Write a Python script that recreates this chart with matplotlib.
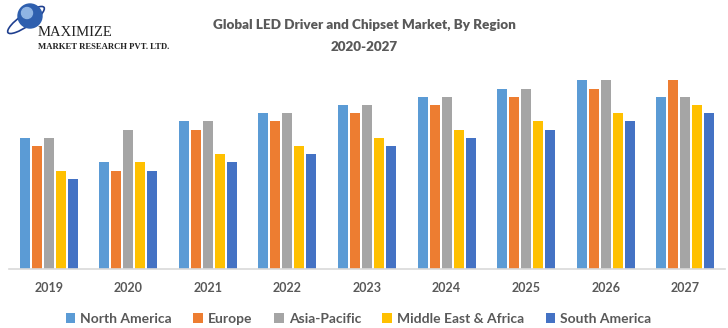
import matplotlib
matplotlib.use("Agg")
import matplotlib.pyplot as plt
import numpy as np
from matplotlib.patches import Circle, Ellipse

years = ["2019", "2020", "2021", "2022", "2023", "2024", "2025", "2026", "2027"]
regions = ["North America", "Europe", "Asia-Pacific", "Middle East & Africa", "South America"]
north_america = [16, 13, 18, 19, 20, 21, 22, 23, 21]
europe = [15, 12, 17, 18, 19, 20, 21, 22, 23]
asia_pacific = [16, 17, 18, 19, 20, 21, 22, 23, 21]
mea = [12, 13, 14, 15, 16, 17, 18, 19, 20]
south_america = [11, 12, 13, 14, 15, 16, 17, 18, 19]
colors = ["#5B9BD5", "#ED7D31", "#A5A5A5", "#FFC000", "#4472C4"]

series = [north_america, europe, asia_pacific, mea, south_america]

plt.rcParams['font.family'] = ['Lato', 'DejaVu Sans']
fig = plt.figure(figsize=(7.28, 3.28), dpi=100)
ax = fig.add_axes([9/728, 59/328, 716/728, 209/328])

x = np.arange(len(years))
pitch = 0.151
width = 0.126
for i, (vals, c, name) in enumerate(zip(series, colors, regions)):
    ax.bar(x + (i - 2) * pitch, vals, width=width, color=c, label=name, zorder=2)

ax.set_xlim(-0.5, len(years) - 0.5)
ax.set_ylim(0, 25.5)
ax.set_yticks([])
for s in ["top", "right", "left"]:
    ax.spines[s].set_visible(False)
ax.spines["bottom"].set_color("#D9D9D9")
ax.spines["bottom"].set_linewidth(1.2)
ax.set_xticks(x)
ax.set_xticklabels(years, fontsize=9, fontweight="bold", color="#595959")
ax.tick_params(axis="x", length=0, pad=9)

leg = fig.legend(loc="center", bbox_to_anchor=(0.4925, 0.027), ncol=5, frameon=False,
                 fontsize=10, handlelength=0.7, handleheight=0.7, handletextpad=0.35,
                 columnspacing=1.55, borderaxespad=0)
for t in leg.get_texts():
    t.set_color("#595959")
    t.set_fontweight("bold")

fig.text(0.5, 1 - 25/328, "Global LED Driver and Chipset Market, By Region", ha="center", va="center",
         fontsize=9.7, fontweight="heavy", color="#595959")
fig.text(0.5, 1 - 47/328, "2020-2027", ha="center", va="center",
         fontsize=9.7, fontweight="heavy", color="#595959")

# logo
lax = fig.add_axes([0, 1 - 60/328, 200/728, 60/328])
lax.set_xlim(0, 200)
lax.set_ylim(60, 0)
lax.axis("off")
lax.add_patch(Ellipse((26, 20), 44, 12, angle=-35, fill=False, ec="#1F3F8F", lw=1.2))
lax.add_patch(Circle((30, 16), 12, color="#2E5FAE"))
lax.add_patch(Circle((27, 13), 5.5, color="#8FB4E3"))
lax.text(38, 33, "MAXIMIZE", fontsize=10.5, family="Liberation Serif", color="#222222", va="center")
lax.text(38, 47, "MARKET RESEARCH PVT. LTD.", fontsize=6.2, family="Liberation Serif", color="#222222",
         va="center", fontweight="bold")

fig.savefig("out.png", dpi=100)
